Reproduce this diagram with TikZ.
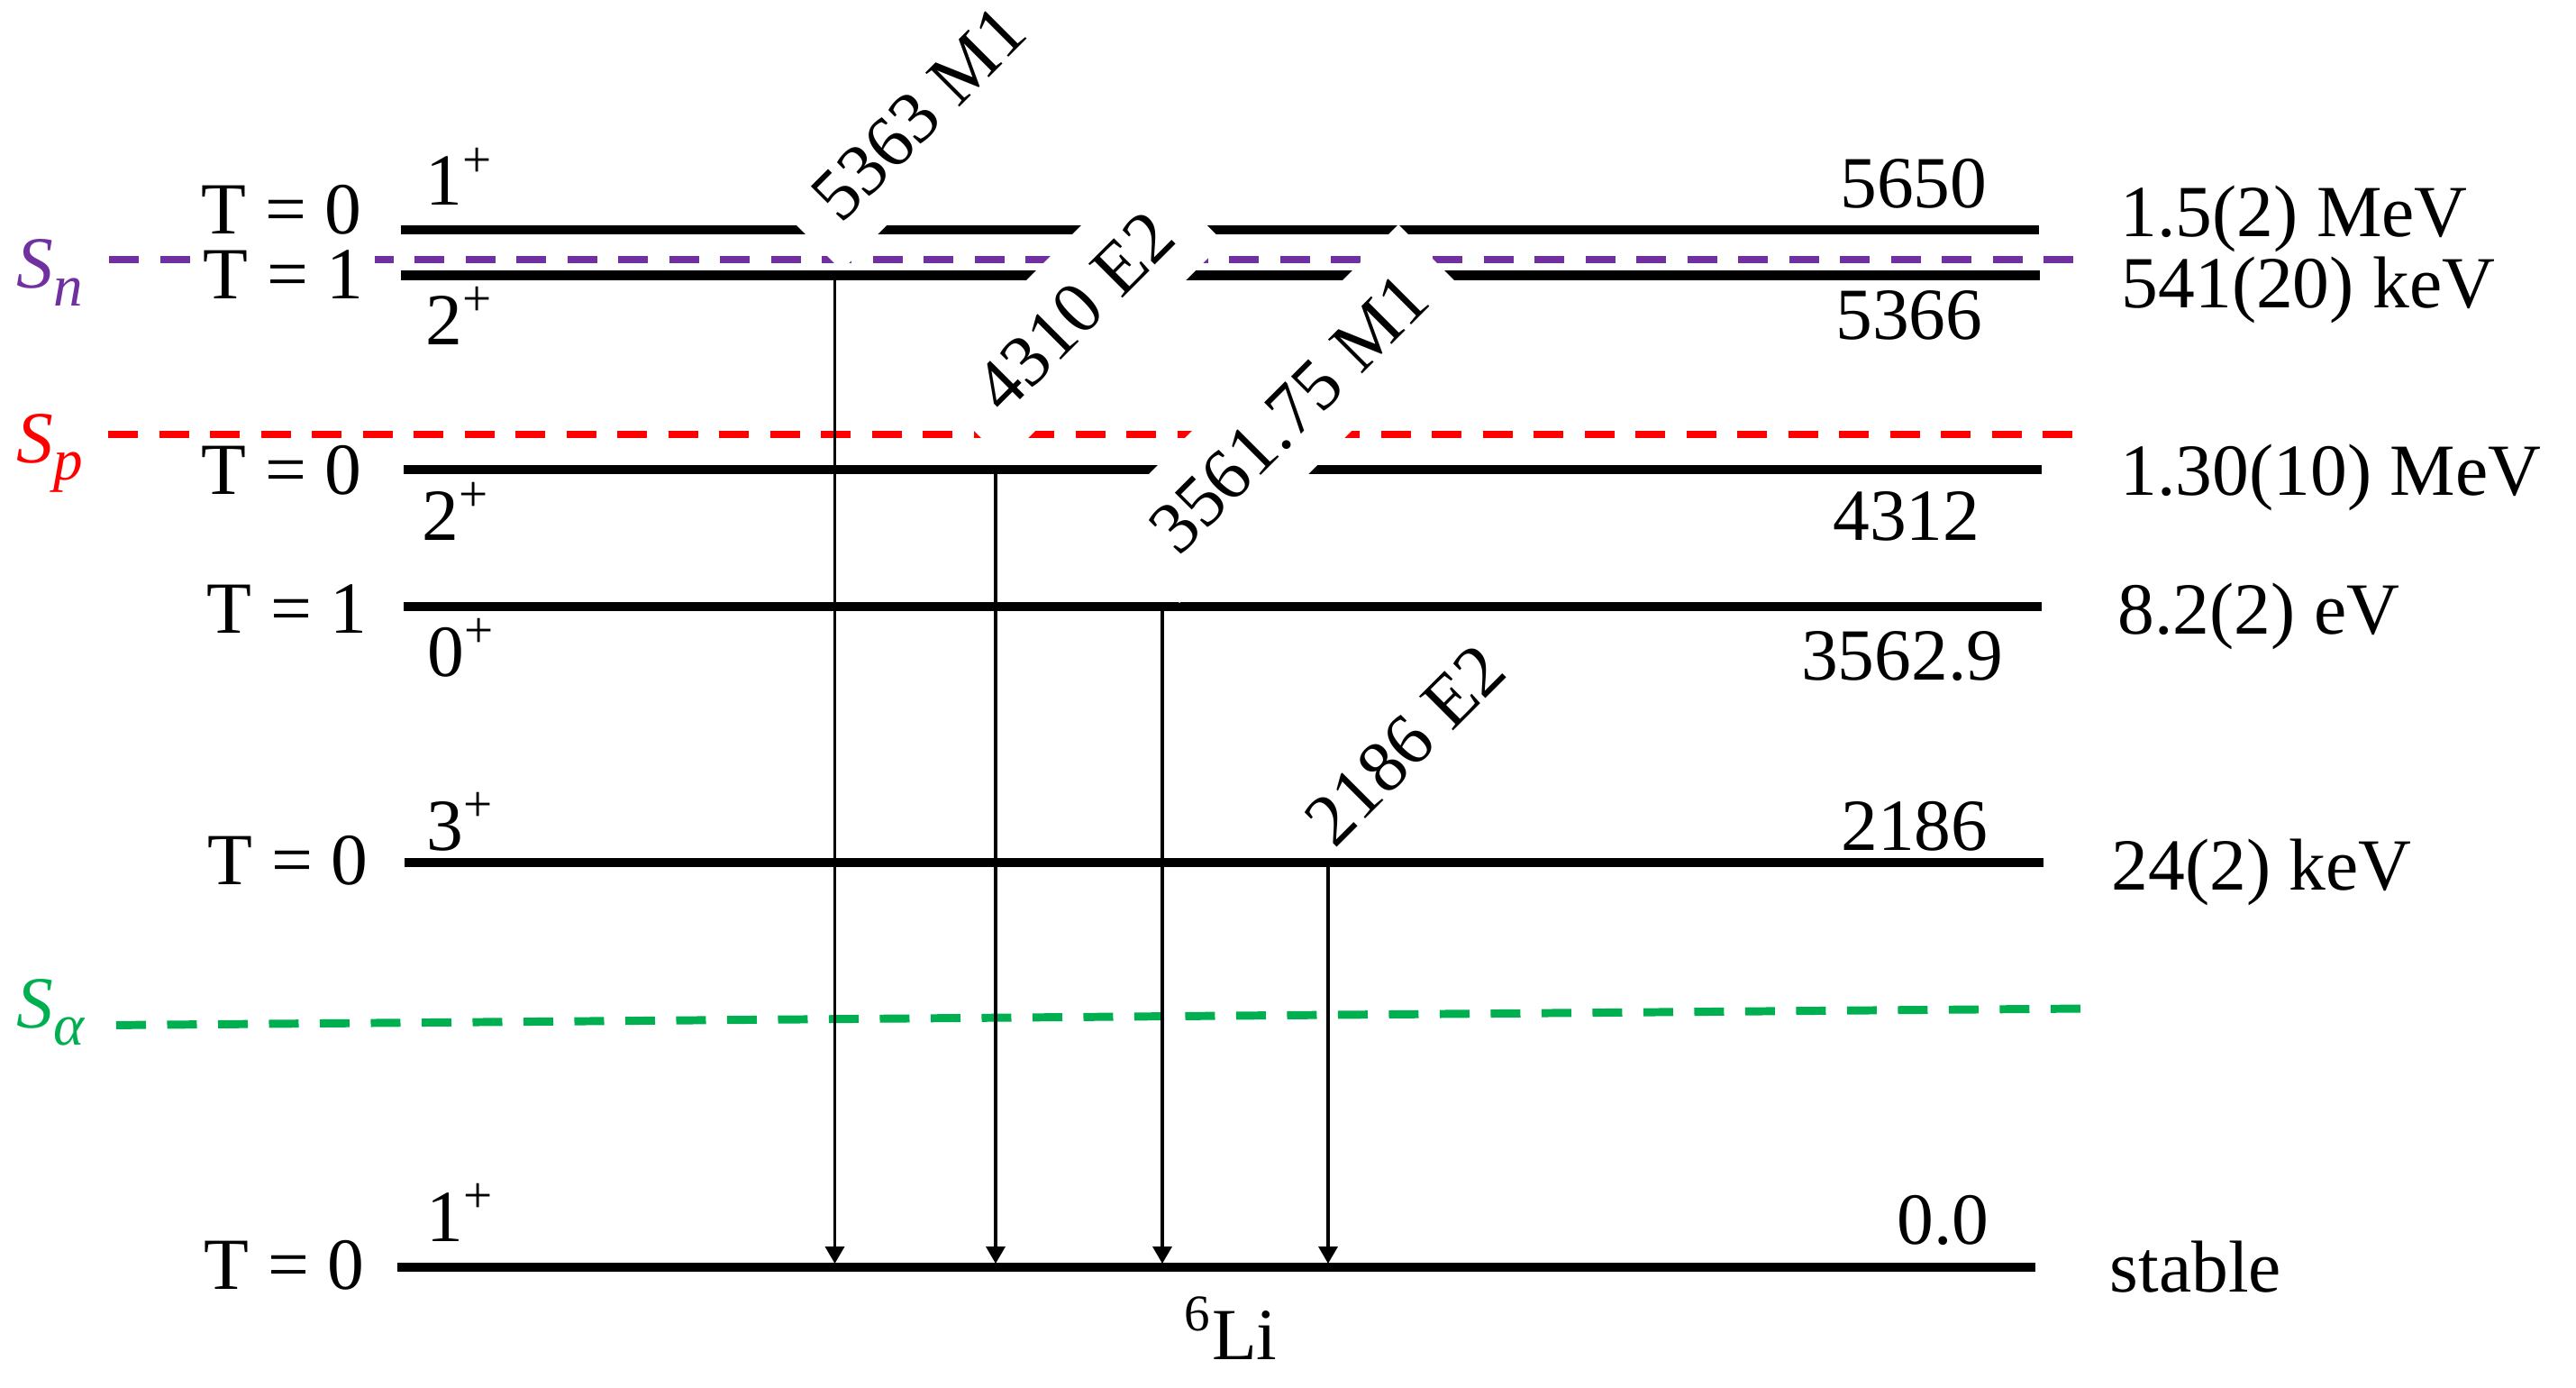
\documentclass[tikz,border=0pt]{standalone}
\usepackage{fontspec}
\setmainfont{Liberation Serif}
\usetikzlibrary{arrows.meta}
\definecolor{snpurple}{RGB}{112,48,160}
\definecolor{spred}{RGB}{255,0,0}
\definecolor{sagreen}{RGB}{0,176,80}
\newcommand{\thrsub}[1]{\raisebox{-0.19cm}{\fontsize{18.5}{20}\selectfont\textit{#1}}}

\begin{document}
\begin{tikzpicture}[every node/.style={font=\fontsize{23.2}{28}\selectfont,inner sep=0},
  lvl/.style={line width=2.85pt},
  sep/.style={line width=2.55pt,dash pattern=on 0.33cm off 0.235cm},
  gam/.style={line width=1pt,-{Triangle[length=0.19cm,width=0.21cm]},shorten >=0.04cm},
  glab/.style={rotate=45,anchor=south west,fill=white,inner sep=0.35cm},
  tlab/.style={anchor=base east,fill=white,inner xsep=0.13cm,inner ysep=0.04cm},
  jlab/.style={anchor=base west},
  elab/.style={anchor=base east},
  wlab/.style={anchor=base west}]
\useasboundingbox (0,0) rectangle (28.59,-15.39);

% levels
\coordinate (a1) at (4.445,-2.554);  \coordinate (b1) at (22.63,-2.554);
\coordinate (a2) at (4.445,-3.055);  \coordinate (b2) at (22.64,-3.055);
\coordinate (a3) at (4.48,-5.206);   \coordinate (b3) at (22.66,-5.206);
\coordinate (a4) at (4.48,-6.73);    \coordinate (b4) at (22.66,-6.73);
\coordinate (a5) at (4.49,-9.57);    \coordinate (b5) at (22.68,-9.57);
\coordinate (a6) at (4.41,-14.06);   \coordinate (b6) at (22.59,-14.06);
\draw[lvl] (a1) -- (b1);
\draw[lvl] (a2) -- (b2);
\draw[lvl] (a3) -- (b3);
\draw[lvl] (a4) -- (b4);
\draw[lvl] (a5) -- (b5);
\draw[lvl] (a6) -- (b6);

% thresholds
\coordinate (sn1) at (1.21,-2.88);   \coordinate (sn2) at (23.12,-2.88);
\coordinate (sp1) at (1.20,-4.82);   \coordinate (sp2) at (23.05,-4.82);
\coordinate (sa1) at (1.29,-11.374); \coordinate (sa2) at (23.12,-11.19);
\draw[sep,snpurple] (sn1) -- (sn2);
\draw[sep,spred] (sp1) -- (sp2);
\draw[sep,sagreen] (sa1) -- (sa2);

% gammas
\coordinate (g1) at (9.265,-3.055);
\coordinate (g2) at (11.05,-5.206);
\coordinate (g3) at (12.90,-6.73);
\coordinate (g4) at (14.74,-9.57);
\draw[gam] (g1) -- (g1 |- a6);
\draw[gam] (g2) -- (g2 |- a6);
\draw[gam] (g3) -- (g3 |- a6);
\draw[gam] (g4) -- (g4 |- a6);

\node[glab] (t1) at (9.34,-3.01) {5363 M1};
\node[glab] (t2) at (11.15,-5.13) {4310 E2};
\node[glab] (t3) at (13.09,-6.70) {3561.75 M1};
\node[glab,fill=none] (t4) at (14.82,-9.935) {2186 E2};

\node[tlab] (iA) at (4.15,-2.60) {T = 0};
\node[tlab] (iB) at (4.17,-3.315) {T = 1};
\node[tlab] (iC) at (4.15,-5.486) {T = 0};
\node[tlab] (iD) at (4.21,-7.02) {T = 1};
\node[tlab] (iE) at (4.22,-9.81) {T = 0};
\node[tlab] (iF) at (4.18,-14.30) {T = 0};

\node[jlab] (jA) at (4.72,-2.28) {1\textsuperscript{+}};
\node[jlab] (jB) at (4.72,-3.82) {2\textsuperscript{+}};
\node[jlab] (jC) at (4.68,-5.99) {2\textsuperscript{+}};
\node[jlab] (jD) at (4.74,-7.50) {0\textsuperscript{+}};
\node[jlab] (jE) at (4.73,-9.43) {3\textsuperscript{+}};
\node[jlab] (jF) at (4.73,-13.77) {1\textsuperscript{+}};

\node[elab] (eA) at (22.06,-2.31) {5650};
\node[elab] (eB) at (22.01,-3.76) {5366};
\node[elab] (eC) at (21.98,-5.99) {4312};
\node[elab] (eD) at (22.24,-7.54) {3562.9};
\node[elab] (eE) at (22.07,-9.43) {2186};
\node[elab] (eF) at (22.08,-13.80) {0.0};

\node[wlab] (wA) at (23.53,-2.63) {1.5(2) MeV};
\node[wlab] (wB) at (23.54,-3.41) {541(20) keV};
\node[wlab] (wC) at (23.53,-5.49) {1.30(10) MeV};
\node[wlab] (wD) at (23.50,-7.03) {8.2(2) eV};
\node[wlab] (wE) at (23.43,-9.87) {24(2) keV};
\node[wlab] (wF) at (23.41,-14.33) {stable};

\node[wlab,text=snpurple] (sn) at (0.18,-3.20) {\textit{S}\thrsub{n}};
\node[wlab,text=spred] (sp) at (0.18,-5.13) {\textit{S}\thrsub{p}};
\node[wlab,text=sagreen] (sa) at (0.18,-11.40) {\textit{S}\thrsub{α}};

\node[wlab] (nuc) at (13.14,-15.08) {\textsuperscript{6}Li};
\end{tikzpicture}
\end{document}
